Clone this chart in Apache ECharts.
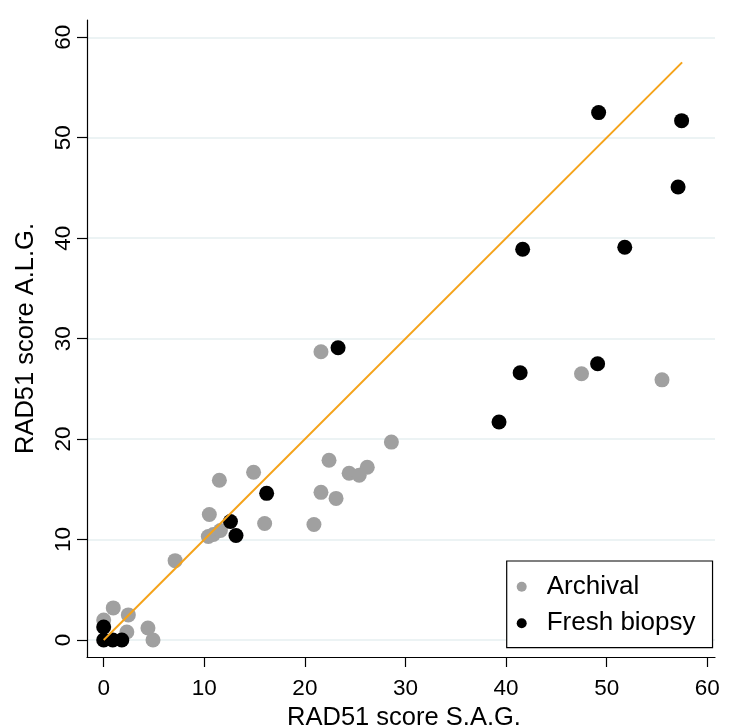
<!DOCTYPE html>
<html>
<head>
<meta charset="utf-8">
<script src="https://cdn.jsdelivr.net/npm/echarts@6/dist/echarts.min.js"></script>
<style>
  html, body { margin: 0; padding: 0; background: #fff; }
  #chart { width: 729px; height: 727px; }
</style>
</head>
<body>
<div id="chart"></div>
<script>
// Tick labels
const xTicks = [0, 10, 20, 30, 40, 50, 60];
const yTicks = [0, 10, 20, 30, 40, 50, 60];

// Archival samples (S.A.G. score, A.L.G. score)
const archivalX = [0, 0.95, 2.45, 2.3, 4.4, 4.9, 7.1, 10.4, 10.9, 11.6, 10.5, 11.5, 14.9, 16.0, 20.9, 21.6, 23.1, 22.4, 24.4, 25.4, 26.2, 28.6, 21.6, 47.5, 55.5];
const archivalY = [2.0, 3.2, 2.5, 0.8, 1.2, 0, 7.9, 10.3, 10.5, 10.9, 12.5, 15.9, 16.7, 11.6, 11.5, 14.7, 14.1, 17.9, 16.6, 16.4, 17.2, 19.7, 28.7, 26.5, 25.9];

// Fresh biopsy samples
const freshX = [0, 0.9, 1.8, 0, 12.6, 13.15, 16.2, 23.3, 39.3, 41.4, 41.65, 49.1, 49.2, 51.8, 57.1, 57.45];
const freshY = [0, 0, 0, 1.3, 11.8, 10.4, 14.6, 29.1, 21.7, 26.6, 38.9, 27.5, 52.5, 39.1, 45.1, 51.7];

// Line of identity
const lineX = [0, 57.5];
const lineY = [0, 57.5];

const seriesNames = ['Archival', 'Fresh biopsy'];

const zip = (a, b) => a.map((v, i) => [v, b[i]]);
const FONT = '"Liberation Sans", Arial, Helvetica, sans-serif';

const chart = echarts.init(document.getElementById('chart'), null, { renderer: 'canvas' });
chart.setOption({
  backgroundColor: '#ffffff',
  animation: false,
  textStyle: { fontFamily: FONT, color: '#000' },
  grid: { left: 87, top: 20, right: 14, bottom: 70, containLabel: false, outerBoundsMode: 'none' },
  xAxis: {
    type: 'value',
    min: -1.66,
    max: 60.77,
    name: 'RAD51 score S.A.G.',
    nameLocation: 'middle',
    nameGap: 42,
    nameTextStyle: { fontSize: 25.5, color: '#000', fontFamily: FONT, padding: [0, 0, 0, 6] },
    axisLine: { show: true, onZero: false, lineStyle: { color: '#000', width: 1.2 } },
    axisTick: { show: true, inside: false, length: 10, customValues: xTicks, lineStyle: { color: '#000', width: 1.2 } },
    axisLabel: { show: true, customValues: xTicks, fontSize: 22.5, color: '#000', margin: 20, fontFamily: FONT },
    splitLine: { show: false }
  },
  yAxis: {
    type: 'value',
    min: -1.69,
    max: 61.72,
    name: 'RAD51 score A.L.G.',
    nameLocation: 'middle',
    nameRotate: 90,
    nameGap: 48,
    nameTextStyle: { fontSize: 25.5, color: '#000', fontFamily: FONT },
    axisLine: { show: true, onZero: false, lineStyle: { color: '#000', width: 1.2 } },
    axisTick: { show: true, inside: false, length: 10, customValues: yTicks, lineStyle: { color: '#000', width: 1.2 } },
    axisLabel: { show: true, customValues: yTicks, rotate: 90, fontSize: 22.5, color: '#000', margin: 12, fontFamily: FONT },
    splitLine: { show: true, lineStyle: { color: '#e6eff1', width: 1.6 } }
  },
  legend: {
    data: seriesNames,
    orient: 'vertical',
    left: 506.7,
    top: 561,
    padding: [12.7, 17, 11.4, 10],
    itemGap: 10.6,
    itemWidth: 10,
    itemHeight: 10,
    icon: 'circle',
    borderColor: '#000',
    borderWidth: 1.2,
    borderRadius: 0,
    backgroundColor: '#fff',
    textStyle: { fontSize: 26, lineHeight: 26, color: '#000', fontFamily: FONT, padding: [0, 0, 0, 15] },
    selectedMode: false
  },
  series: [
    {
      name: seriesNames[0],
      type: 'scatter',
      data: zip(archivalX, archivalY),
      symbol: 'circle',
      symbolSize: 15,
      clip: false,
      itemStyle: { color: '#a0a0a0', opacity: 1 },
      z: 2
    },
    {
      name: seriesNames[1],
      type: 'scatter',
      data: zip(freshX, freshY),
      symbol: 'circle',
      symbolSize: 15,
      clip: false,
      itemStyle: { color: '#000000', opacity: 1 },
      z: 3
    },
    {
      name: 'identity',
      type: 'line',
      data: zip(lineX, lineY),
      symbol: 'none',
      showSymbol: false,
      clip: false,
      lineStyle: { color: '#f5a31a', width: 2 },
      z: 4,
      silent: true
    }
  ]
});
</script>
</body>
</html>
